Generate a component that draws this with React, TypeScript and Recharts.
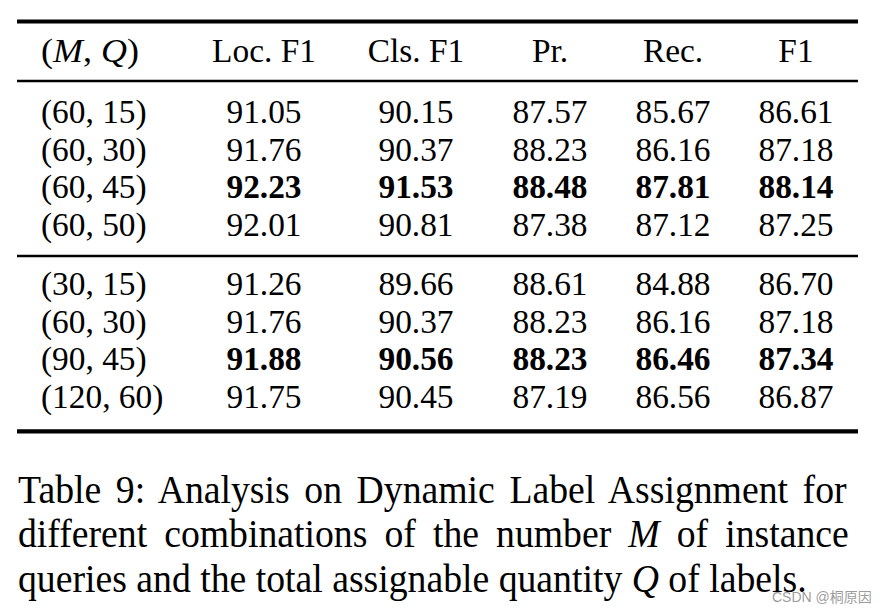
import React from 'react';
import { ScatterChart, Scatter, XAxis, YAxis, ReferenceLine } from 'recharts';

// ---------------- data ----------------
const columnHeaders = ['Loc. F1', 'Cls. F1', 'Pr.', 'Rec.', 'F1'];
const mValues = [60, 60, 60, 60, 30, 60, 90, 120];
const qValues = [15, 30, 45, 50, 15, 30, 45, 60];
const locF1 = [91.05, 91.76, 92.23, 92.01, 91.26, 91.76, 91.88, 91.75];
const clsF1 = [90.15, 90.37, 91.53, 90.81, 89.66, 90.37, 90.56, 90.45];
const precision = [87.57, 88.23, 88.48, 87.38, 88.61, 88.23, 88.23, 87.19];
const recall = [85.67, 86.16, 87.81, 87.12, 84.88, 86.16, 86.46, 86.56];
const f1Score = [86.61, 87.18, 88.14, 87.25, 86.7, 87.18, 87.34, 86.87];
const boldRows = [2, 6];
const captionLines = [
  [{ t: 'Table 9: Analysis on Dynamic Label Assignment for' }],
  [{ t: 'different combinations of the number ' }, { t: 'M', i: true }, { t: ' of instance' }],
  [{ t: 'queries and the total assignable quantity ' }, { t: 'Q', i: true }, { t: ' of labels.' }],
];
const watermark = 'CSDN @桐原因';

// ---------------- layout ----------------
const W = 886;
const H = 613;
const SERIF = '"Liberation Serif", "Times New Roman", serif';
const TABLE_FONT = 34.6;
const TABLE_SX = 0.965;
const CAPTION_FONT = 39.5;
const CAPTION_SX = 0.955;
const TABLE_LEFT = 17;
const TABLE_RIGHT = 858;
const firstColX = 41;
const colCenters = [264, 416, 550, 673, 796];
const headerY = 62;
const rowY = [122.7, 160.5, 198, 235.5, 295, 332.6, 370.2, 407.8];
const rules = [
  { y: 21.5, w: 4.2 },
  { y: 81, w: 2.4 },
  { y: 256, w: 2.4 },
  { y: 431.3, w: 4.2 },
];
const captionX = 18;
const captionY = [502.5, 547, 591.5];
const captionRight = [851, 849, 0];
const watermarkX = 772;
const watermarkY = 602;

type Part = { t: string; i?: boolean; b?: boolean };
type Cell = { x: number; y: number; parts: Part[]; anchor: string; size: number; sx: number; justify?: number; kind?: string };

let ctx: CanvasRenderingContext2D | null = null;
function measure(parts: Part[], size: number) {
  if (typeof document === 'undefined') return 0;
  if (!ctx) ctx = document.createElement('canvas').getContext('2d');
  if (!ctx) return 0;
  let w = 0;
  for (const p of parts) {
    ctx.font = `${p.i ? 'italic ' : ''}${p.b ? 'bold ' : ''}${size}px ${SERIF}`;
    w += ctx.measureText(p.t).width;
  }
  return w;
}

const series = [locF1, clsF1, precision, recall, f1Score];

const cells: Cell[] = [];
cells.push({
  x: firstColX,
  y: headerY,
  parts: [{ t: '(' }, { t: 'M', i: true }, { t: ', ' }, { t: 'Q', i: true }, { t: ')' }],
  anchor: 'start',
  size: TABLE_FONT,
  sx: 1.04,
});
columnHeaders.forEach((h, c) =>
  cells.push({ x: colCenters[c], y: headerY, parts: [{ t: h }], anchor: 'middle', size: TABLE_FONT, sx: TABLE_SX })
);
mValues.forEach((m, r) => {
  const bold = boldRows.includes(r);
  cells.push({ x: firstColX, y: rowY[r], parts: [{ t: `(${m}, ${qValues[r]})` }], anchor: 'start', size: TABLE_FONT, sx: TABLE_SX });
  series.forEach((s, c) =>
    cells.push({ x: colCenters[c], y: rowY[r], parts: [{ t: s[r].toFixed(2), b: bold }], anchor: 'middle', size: TABLE_FONT, sx: TABLE_SX })
  );
});
captionLines.forEach((line, k) =>
  cells.push({ x: captionX, y: captionY[k], parts: line, anchor: 'start', size: CAPTION_FONT, sx: CAPTION_SX, justify: captionRight[k] })
);
cells.push({ x: watermarkX, y: watermarkY, parts: [{ t: watermark }], anchor: 'start', size: 14, sx: 1, kind: 'wm' });

const TextMark = (props: any) => {
  const { cx, cy, payload } = props;
  const cell: Cell = payload;
  if (cell.kind === 'wm') {
    return (
      <text x={cx} y={cy} fontSize={cell.size} fontFamily='"Liberation Sans", Arial, "Noto Sans CJK SC", sans-serif' fill="#8a8a8a" fillOpacity={0.85}>
        {cell.parts[0].t}
      </text>
    );
  }
  let wordSpacing = 0;
  if (cell.justify) {
    const natural = measure(cell.parts, cell.size);
    const spaces = cell.parts.reduce((n, p) => n + (p.t.match(/ /g) || []).length, 0);
    if (natural > 0 && spaces > 0) wordSpacing = ((cell.justify - cx) / cell.sx - natural) / spaces;
  }
  return (
    <text
      x={0}
      y={0}
      transform={`translate(${cx},${cy}) scale(${cell.sx},1)`}
      textAnchor={cell.anchor as any}
      fontSize={cell.size}
      fontFamily={SERIF}
      fill="#000"
      style={{ wordSpacing: `${wordSpacing}px`, whiteSpace: 'pre' }}
    >
      {cell.parts.map((p, i) => (
        <tspan key={i} fontStyle={p.i ? 'italic' : 'normal'} fontWeight={p.b ? 'bold' : 'normal'}>
          {p.t}
        </tspan>
      ))}
    </text>
  );
};

export default function App() {
  return (
    <div style={{ position: 'absolute', left: 0, top: 0, width: W, height: H, background: '#fff' }}>
      <ScatterChart width={W} height={H} margin={{ top: 0, right: 0, bottom: 0, left: 0 }}>
        <XAxis type="number" dataKey="x" domain={[0, W]} hide />
        <YAxis type="number" dataKey="y" domain={[0, H]} reversed hide />
        {rules.map((r, i) => (
          <ReferenceLine
            key={i}
            segment={[
              { x: TABLE_LEFT, y: r.y },
              { x: TABLE_RIGHT, y: r.y },
            ]}
            stroke="#000"
            strokeWidth={r.w}
            isFront={false}
          />
        ))}
        <Scatter data={cells} dataKey="y" shape={TextMark} isAnimationActive={false} />
      </ScatterChart>
    </div>
  );
}
